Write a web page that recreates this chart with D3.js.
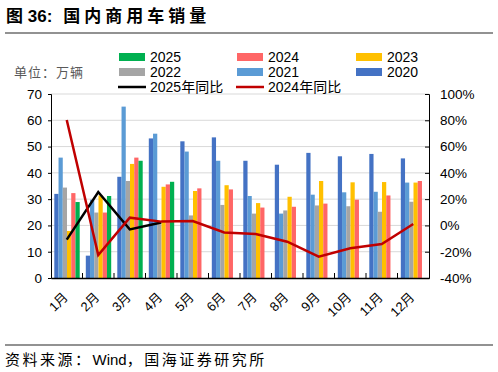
<html>
<script src='https://d3js.org/d3.v7.min.js'></script>
<style>
body {margin:0; background:#fff;}
text {font-family: "Liberation Sans", "Noto Sans CJK SC", sans-serif;}
</style>
<body onload='init()'>
<svg width=498 height=372></svg>
<script>
var months = ["1月","2月","3月","4月","5月","6月","7月","8月","9月","10月","11月","12月"];
var years = ["2020","2021","2022","2023","2024","2025"];
var sales2020 = [32.0, 8.5, 38.5, 53.1, 52.0, 53.5, 44.6, 43.1, 47.6, 46.3, 47.2, 45.5];
var sales2021 = [45.8, 29.8, 65.2, 54.9, 48.1, 44.6, 31.2, 24.5, 31.7, 32.6, 32.8, 36.3];
var sales2022 = [34.4, 24.9, 36.9, 20.5, 23.8, 27.8, 24.5, 25.7, 27.6, 27.3, 25.2, 29.0];
var sales2023 = [17.9, 31.4, 43.4, 34.7, 33.1, 35.3, 28.5, 30.9, 36.9, 36.4, 36.5, 36.3];
var sales2024 = [32.3, 24.9, 45.8, 35.6, 34.1, 33.7, 26.8, 27.1, 28.3, 29.8, 31.4, 36.9];
var sales2025 = [28.9, 31.2, 44.6, 36.6];
var yoy2025 = [-10.8, 25.4, -3.0, 2.2];
var yoy2024 = [80.2, -22.5, 5.9, 2.9, 3.4, -5.3, -6.5, -12.4, -23.8, -17.4, -14.1, 1.1];
var leftTicks = [0, 10, 20, 30, 40, 50, 60, 70];
var rightTicks = [-40, -20, 0, 20, 40, 60, 80, 100];
var barColors = ["#4472C4", "#5B9BD5", "#A5A5A5", "#FFC000", "#FF6666", "#00B050"];

function init() {
  var svg = d3.select("svg");
  var left = 51, right = 429, top = 94, bottom = 278;
  var series = [sales2020, sales2021, sales2022, sales2023, sales2024, sales2025];

  var x0 = d3.scaleBand().domain(months).range([left, right]);
  var x1 = d3.scaleBand().domain(years).range([3.3, 28.7]);
  var yL = d3.scaleLinear().domain([0, 70]).range([bottom, top]);
  var yR = d3.scaleLinear().domain([-40, 100]).range([bottom, top]);

  // title
  var t = svg.append("text").attr("x", 6).attr("y", 22)
    .style("font-size", "17px").style("font-weight", "bold").attr("fill", "#000");
  t.append("tspan").text("图 36:");
  t.append("tspan").attr("dx", 11).style("letter-spacing", "4px").text("国内商用车销量");
  svg.append("line").attr("x1", 5).attr("x2", 493).attr("y1", 33).attr("y2", 33)
    .attr("stroke", "#6e6e6e").attr("stroke-width", 1.5);

  // source
  svg.append("line").attr("x1", 5).attr("x2", 493).attr("y1", 345).attr("y2", 345)
    .attr("stroke", "#6e6e6e").attr("stroke-width", 1.5);
  var s = svg.append("text").attr("x", 5).attr("y", 365)
    .style("font-size", "15px").attr("fill", "#000");
  s.append("tspan").style("letter-spacing", "2.5px").text("资料来源：");
  s.append("tspan").text("Wind");
  s.append("tspan").style("letter-spacing", "2.5px").text("，国海证券研究所");

  // unit
  svg.append("text").attr("x", 14).attr("y", 77)
    .style("font-size", "13px").style("letter-spacing", "1px").attr("fill", "#595959")
    .text("单位：万辆");

  // gridlines
  svg.append("g").selectAll("line").data(leftTicks.filter(function(d){return d > 0;}))
    .enter().append("line")
    .attr("x1", left).attr("x2", right)
    .attr("y1", function(d){return yL(d);}).attr("y2", function(d){return yL(d);})
    .attr("stroke", "#d9d9d9").attr("stroke-width", 1);

  // bars
  series.forEach(function(vals, i) {
    svg.append("g").selectAll("rect").data(vals).enter().append("rect")
      .attr("x", function(d, j){return x0(months[j]) + x1(years[i]);})
      .attr("width", x1.bandwidth())
      .attr("y", function(d){return yL(d);})
      .attr("height", function(d){return bottom - yL(d);})
      .attr("fill", barColors[i]);
  });

  // lines
  var line = d3.line()
    .x(function(d, j){return x0(months[j]) + x0.bandwidth() / 2;})
    .y(function(d){return yR(d);});
  svg.append("path").datum(yoy2025).attr("d", line)
    .attr("fill", "none").attr("stroke", "#000").attr("stroke-width", 2.5);
  svg.append("path").datum(yoy2024).attr("d", line)
    .attr("fill", "none").attr("stroke", "#C00000").attr("stroke-width", 2.5);

  // axes
  var yAxisL = d3.axisLeft(yL).tickValues(leftTicks).tickSize(3).tickPadding(6);
  var gl = svg.append("g").attr("transform", "translate(" + left + ",0)").call(yAxisL);
  var yAxisR = d3.axisRight(yR).tickValues(rightTicks).tickSize(-4).tickPadding(11)
    .tickFormat(function(d){return d + "%";});
  var gr = svg.append("g").attr("transform", "translate(" + right + ",0)").call(yAxisR);
  [gl, gr].forEach(function(g) {
    g.selectAll("text").style("font-size", "13.5px").attr("fill", "#000")
      .style("font-family", "Liberation Sans");
    g.select(".domain").attr("stroke", "#000");
  });

  var xAxis = d3.axisBottom(x0).tickSize(0).tickPadding(0);
  var gx = svg.append("g").attr("transform", "translate(0," + bottom + ")").call(xAxis);
  gx.select(".domain").attr("stroke", "#000").attr("stroke-width", 1.5);
  gx.selectAll("text")
    .style("font-size", "13px").attr("fill", "#000")
    .attr("text-anchor", "end").attr("dy", null).attr("y", null)
    .attr("transform", "translate(2,20) rotate(-45)");
  svg.append("g").selectAll("line").data(months.slice(1)).enter().append("line")
    .attr("x1", function(d){return x0(d);}).attr("x2", function(d){return x0(d);})
    .attr("y1", bottom).attr("y2", bottom - 5)
    .attr("stroke", "#000");

  // legend
  var legBars = [
    {name: "2025", c: barColors[5], x: 119, y: 57},
    {name: "2024", c: barColors[4], x: 237, y: 57},
    {name: "2023", c: barColors[3], x: 356, y: 57},
    {name: "2022", c: barColors[2], x: 119, y: 72},
    {name: "2021", c: barColors[1], x: 237, y: 72},
    {name: "2020", c: barColors[0], x: 356, y: 72}
  ];
  var lg = svg.append("g");
  legBars.forEach(function(d) {
    lg.append("rect").attr("x", d.x).attr("y", d.y - 4).attr("width", 26).attr("height", 8).attr("fill", d.c);
    lg.append("text").attr("x", d.x + 31).attr("y", d.y + 5).style("font-size", "14px").text(d.name);
  });
  var legLines = [
    {name: "2025年同比", c: "#000", x: 118, y: 87},
    {name: "2024年同比", c: "#C00000", x: 236, y: 87}
  ];
  legLines.forEach(function(d) {
    lg.append("line").attr("x1", d.x).attr("x2", d.x + 28).attr("y1", d.y).attr("y2", d.y)
      .attr("stroke", d.c).attr("stroke-width", 2.5);
    lg.append("text").attr("x", d.x + 32).attr("y", d.y + 5).style("font-size", "14px").text(d.name);
  });
}
</script>
</body>
</html>
